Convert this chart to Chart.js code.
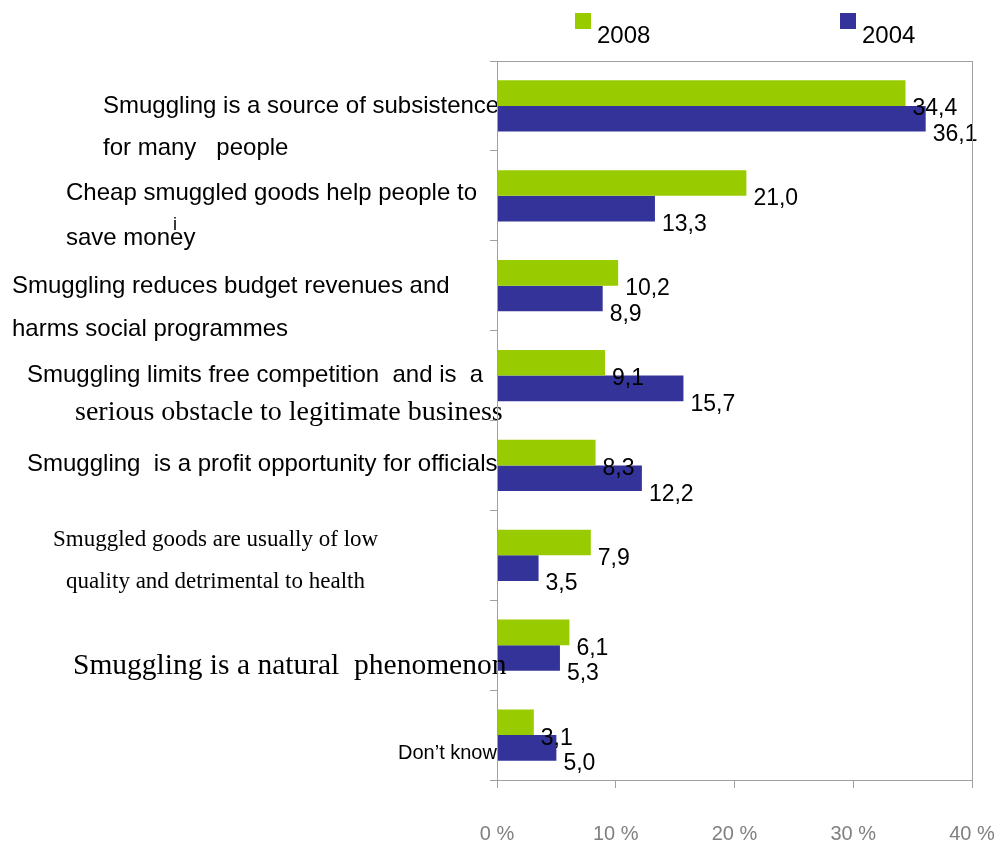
<!DOCTYPE html>
<html>
<head>
<meta charset="utf-8">
<script src="https://cdn.jsdelivr.net/npm/chart.js@4.4.0/dist/chart.umd.min.js"></script>
<style>
    body { margin: 0; background: #fff; }
</style>
</head>
<body>
<canvas id="chart" width="999" height="843"></canvas>
<script>
// Data.
const categories = [
    ["Smuggling is a source of subsistence", "for many   people"],
    ["Cheap smuggled goods help people to", "save money"],
    ["Smuggling reduces budget revenues and", "harms social programmes"],
    ["Smuggling limits free competition  and is  a", "serious obstacle to legitimate business"],
    ["Smuggling  is a profit opportunity for officials"],
    ["Smuggled goods are usually of low", "quality and detrimental to health"],
    ["Smuggling is a natural  phenomenon"],
    ["Don\u2019t know"],
];
const series_names = ["2008", "2004"];
const values_2008 = [34.4, 21.0, 10.2, 9.1, 8.3, 7.9, 6.1, 3.1];
const values_2004 = [36.1, 13.3, 8.9, 15.7, 12.2, 3.5, 5.3, 5.0];
const x_ticks = [0, 10, 20, 30, 40];

const SANS = "24px 'Liberation Sans', Arial, sans-serif";
const SANS_SMALL = "20px 'Liberation Sans', Arial, sans-serif";
const SERIF = "23px 'Liberation Serif', 'Times New Roman', serif";
const SERIF_MID = "28px 'Liberation Serif', 'Times New Roman', serif";
const SERIF_BIG = "29.5px 'Liberation Serif', 'Times New Roman', serif";
const GRAY = "#a0a0a0";

// Where each category label sits (x, baseline offset from category centre, font).
const label_layout = [
    [{ x: 103, dy: 7, font: SANS }, { x: 103, dy: 49, font: SANS }],
    [{ x: 66, dy: 4, font: SANS }, { x: 66, dy: 49, font: SANS }],
    [{ x: 12, dy: 7, font: SANS }, { x: 12, dy: 50, font: SANS }],
    [{ x: 27, dy: 6, font: SANS }, { x: 75, dy: 44, font: SERIF_MID }],
    [{ x: 27, dy: 6, font: SANS }],
    [{ x: 53, dy: -9, font: SERIF }, { x: 66, dy: 33, font: SERIF }],
    [{ x: 73, dy: 29, font: SERIF_BIG }],
    [{ x: 398, dy: 24, font: SANS_SMALL }],
];

// Category labels, drawn beside the y axis.
const category_labels = {
    id: "category_labels",
    afterDraw(chart) {
        const ctx = chart.ctx;
        const y = chart.scales.y;
        ctx.save();
        ctx.fillStyle = "#000";
        ctx.textAlign = "left";
        ctx.textBaseline = "alphabetic";
        categories.forEach((lines, i) => {
            const center = y.getPixelForValue(i);
            lines.forEach((line, j) => {
                const l = label_layout[i][j];
                ctx.font = l.font;
                ctx.fillText(line, l.x, center + l.dy);
            });
        });
        // Stray glyph over "money".
        ctx.font = "18px 'Liberation Sans', Arial, sans-serif";
        ctx.fillText("i", 173, y.getPixelForValue(1) + 34);
        ctx.restore();
    }
};

// Value labels right of each bar, sitting on its lower edge.
const value_labels = {
    id: "value_labels",
    afterDatasetsDraw(chart) {
        const ctx = chart.ctx;
        ctx.save();
        ctx.font = "23px 'Liberation Sans', Arial, sans-serif";
        ctx.fillStyle = "#000";
        ctx.textAlign = "left";
        ctx.textBaseline = "alphabetic";
        chart.data.datasets.forEach((ds, d) => {
            chart.getDatasetMeta(d).data.forEach((bar, i) => {
                const text = ds.data[i].toFixed(1).replace(".", ",");
                ctx.fillText(text, bar.x + 7, bar.y + bar.height / 2 + 9.5);
            });
        });
        ctx.restore();
    }
};

// Legend and plot frame.
const frame_legend = {
    id: "frame_legend",
    afterDraw(chart) {
        const ctx = chart.ctx;
        const a = chart.chartArea;
        ctx.save();
        ctx.strokeStyle = GRAY;
        ctx.lineWidth = 1;
        ctx.strokeRect(Math.round(a.left) + 0.5, Math.round(a.top) + 0.5, Math.round(a.right - a.left), Math.round(a.bottom - a.top));

        const box_x = [575, 840];
        ctx.font = SANS;
        ctx.textBaseline = "alphabetic";
        chart.data.datasets.forEach((ds, d) => {
            ctx.fillStyle = ds.backgroundColor;
            ctx.fillRect(box_x[d], 13, 16, 16);
            ctx.fillStyle = "#000";
            ctx.fillText(ds.label, box_x[d] + 22, 43);
        });
        ctx.restore();
    }
};

const data = {
    labels: categories,
    datasets: [
        {
            label: series_names[0],
            data: values_2008,
            backgroundColor: "#99cc00",
            categoryPercentage: 0.57,
            barPercentage: 1.0,
        },
        {
            label: series_names[1],
            data: values_2004,
            backgroundColor: "#333399",
            categoryPercentage: 0.57,
            barPercentage: 1.0,
        },
    ]
};

const config = {
    type: "bar",
    data: data,
    options: {
        indexAxis: "y",
        responsive: false,
        animation: false,
        layout: {
            padding: { top: 61, right: 27, left: 0, bottom: 0 },
        },
        plugins: {
            legend: { display: false },
            tooltip: { enabled: false },
        },
        scales: {
            x: {
                min: x_ticks[0],
                max: x_ticks[x_ticks.length - 1],
                afterBuildTicks: (scale) => {
                    scale.ticks = x_ticks.map(v => ({ value: v }));
                },
                afterFit: (scale) => {
                    scale.height = 63;
                    scale.paddingLeft = 0;
                    scale.paddingRight = 0;
                },
                ticks: {
                    callback: (v) => v + " %",
                    color: "#808080",
                    font: { family: "'Liberation Sans', Arial, sans-serif", size: 20 },
                    padding: 34,
                    maxRotation: 0,
                },
                grid: {
                    drawOnChartArea: false,
                    drawTicks: true,
                    tickLength: 8,
                    color: GRAY,
                },
                border: { color: GRAY },
            },
            y: {
                ticks: { display: false },
                afterFit: (scale) => { scale.width = 497; },
                grid: {
                    offset: true,
                    drawOnChartArea: false,
                    drawTicks: true,
                    tickLength: 7,
                    color: GRAY,
                },
                border: { color: GRAY },
            },
        },
    },
    plugins: [value_labels, category_labels, frame_legend],
};

window.myChart = new Chart(document.getElementById("chart"), config);
</script>
</body>
</html>
